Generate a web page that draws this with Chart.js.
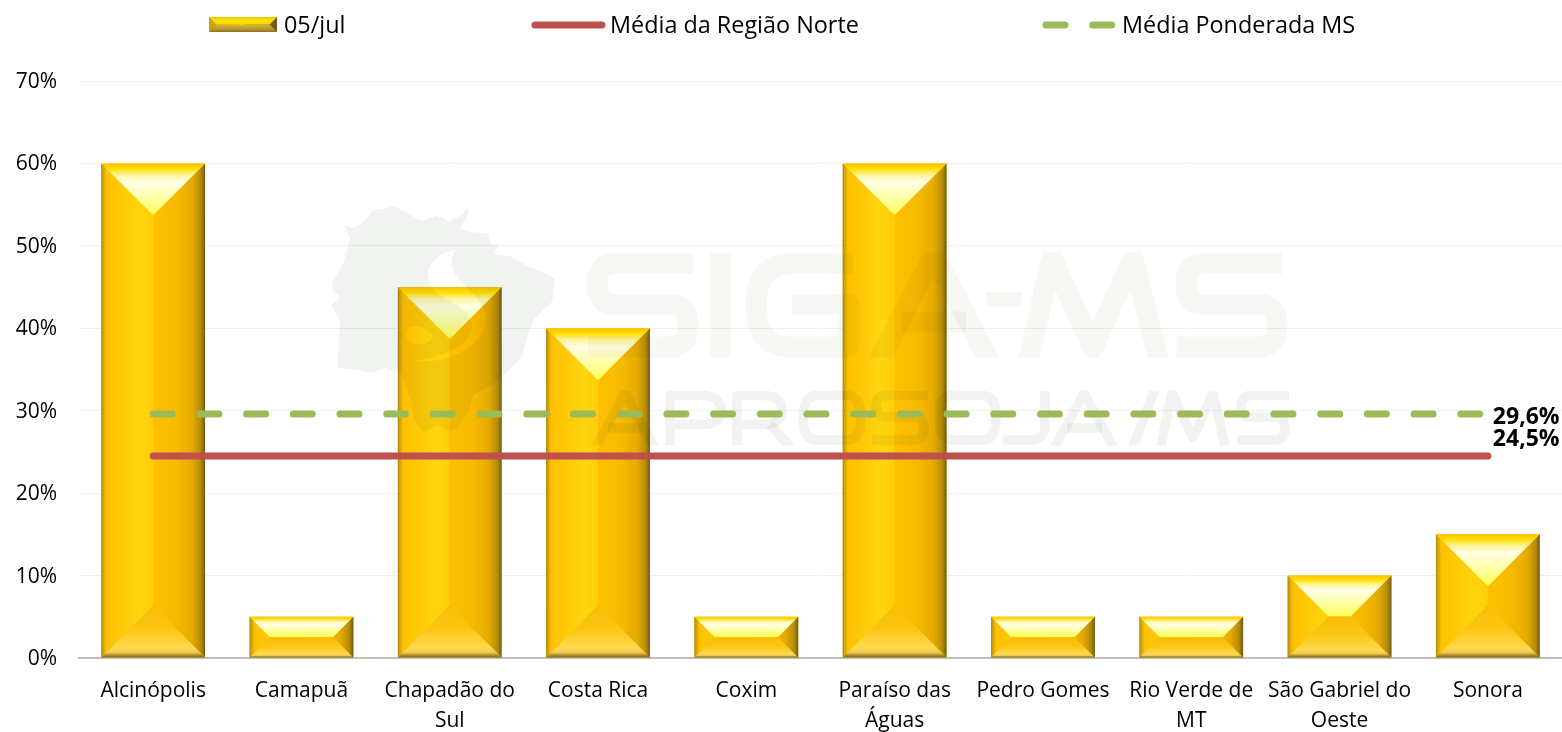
<!DOCTYPE html>
<html>
<head>
<meta charset="utf-8">
<style>html,body{margin:0;padding:0;background:#fff}#w{width:1562px;height:732px;position:relative}</style>
<script src="https://cdn.jsdelivr.net/npm/chart.js@4"></script>
</head>
<body>
<div id="w"><canvas id="c" width="1562" height="732"></canvas></div>
<script>
const categories = ["Alcinópolis","Camapuã",["Chapadão do","Sul"],"Costa Rica","Coxim",["Paraíso das","Águas"],"Pedro Gomes",["Rio Verde de","MT"],["São Gabriel do","Oeste"],"Sonora"];
const barValues = [60,5,45,40,5,60,5,5,10,15];
const mediaNorte = [24.5,24.5,24.5,24.5,24.5,24.5,24.5,24.5,24.5,24.5];
const mediaMS = [29.6,29.6,29.6,29.6,29.6,29.6,29.6,29.6,29.6,29.6];
const seriesNames = ["05/jul","Média da Região Norte","Média Ponderada MS"];
const lineLabels = ["24,5%","29,6%"];
const FONT = '"Open Sans"';

function lin(ctx,x0,y0,x1,y1,stops){const g=ctx.createLinearGradient(x0,y0,x1,y1);stops.forEach(s=>g.addColorStop(s[0],s[1]));return g;}
function poly(ctx,pts,fill){ctx.beginPath();pts.forEach((p,i)=>i?ctx.lineTo(p[0],p[1]):ctx.moveTo(p[0],p[1]));ctx.closePath();ctx.fillStyle=fill;ctx.fill();}
const barLook={
  left:[[0,'#a58414'],[0.03,'#c9a00c'],[0.1,'#FFC000'],[0.75,'#FFD50F'],[1,'#FFCE08']],
  right:[[0,'#FFC000'],[0.45,'#F6BA00'],[0.75,'#E6AB00'],[0.92,'#B58C08'],[1,'#6E5A1C']],
  top:[[0,'#FFC000'],[0.1,'#FFDE00'],[0.22,'#FFF49A'],[0.36,'#FFFFE6'],[0.6,'#FFFFB4'],[1,'#FFFF55']],
  bottom:[[0,'#F8BC08'],[0.45,'#FCC514'],[0.8,'#FFD94E'],[0.9,'#F2CC50'],[0.96,'#A98A2A'],[1,'#7A6420']]
};
const swatchLook={
  left:[[0,'#C9A010'],[1,'#E8B800']],
  right:[[0,'#A98A18'],[1,'#6E5A1C']],
  top:[[0,'#E8C000'],[0.3,'#FFE000'],[1,'#FFD800']],
  bottom:[[0,'#DDB830'],[0.6,'#B8972F'],[1,'#8C7220']]
};
function bevel(ctx,l,t,r,b,look){
  const w=r-l,h=b-t,d=Math.min(w/2,h/2),cx=(l+r)/2;
  const wl=l+d,wr=r-d,yt=t+d,yb=b-d;
  ctx.save();
  poly(ctx,[[l,t],[cx,yt],[cx,yb],[l,b]],lin(ctx,l,0,cx,0,look.left));
  poly(ctx,[[r,t],[cx,yt],[cx,yb],[r,b]],lin(ctx,cx,0,r,0,look.right));
  poly(ctx,[[l,t],[r,t],[wr,yt],[wl,yt]],lin(ctx,0,t,0,yt,look.top));
  poly(ctx,[[l,b],[r,b],[wr,yb],[wl,yb]],lin(ctx,0,yb,0,b,look.bottom));
  ctx.restore();
}
// ---------- watermark artwork (background decoration, not data) ----------
const mapOutline=[[58,88],[80,100],[110,88],[145,45],[185,40],[205,32],[230,45],[290,78],[335,62],[360,72],[370,82],[405,62],[432,38],[425,70],[405,100],[440,112],[490,115],[495,148],[518,150],[508,178],[560,185],[610,215],[660,235],[690,250],[682,320],[660,340],[625,375],[605,430],[590,490],[545,530],[500,570],[445,600],[430,650],[400,695],[375,710],[335,690],[295,712],[270,680],[255,610],[225,530],[180,518],[140,533],[100,525],[35,517],[40,455],[45,380],[20,330],[45,305],[22,285],[22,262],[55,205],[75,130]];
function watermark(ctx){
  ctx.save();
  ctx.globalCompositeOperation='multiply';
  const mx=x=>325+x/3,my=y=>195+y/3;
  ctx.beginPath();
  mapOutline.forEach((p,i)=>i?ctx.lineTo(mx(p[0]),my(p[1])):ctx.moveTo(mx(p[0]),my(p[1])));
  ctx.closePath();
  ctx.moveTo(mx(392),my(165));
  ctx.bezierCurveTo(mx(320),my(175),mx(285),my(235),mx(325),my(285));
  ctx.bezierCurveTo(mx(370),my(325),mx(440),my(335),mx(440),my(395));
  ctx.bezierCurveTo(mx(440),my(450),mx(350),my(490),mx(265),my(497));
  ctx.bezierCurveTo(mx(380),my(510),mx(485),my(450),mx(482),my(365));
  ctx.bezierCurveTo(mx(480),my(290),mx(340),my(250),mx(392),my(165));
  ctx.closePath();
  ctx.moveTo(mx(322),my(423));
  ctx.bezierCurveTo(mx(322),my(400),mx(245),my(375),mx(245),my(420));
  ctx.bezierCurveTo(mx(245),my(465),mx(322),my(450),mx(322),my(423));
  ctx.closePath();
  ctx.fillStyle='rgb(241,243,241)';
  ctx.fill('evenodd');

  ctx.lineCap='butt';ctx.lineJoin='round';
  const S=(l,r,top,mid,bot,endTop,startBot,k)=>p=>{
    p.moveTo(endTop,top);p.lineTo(l+k,top);p.quadraticCurveTo(l,top,l,top+(mid-top)/2);
    p.quadraticCurveTo(l,mid,l+k,mid);p.lineTo(r-k,mid);p.quadraticCurveTo(r,mid,r,mid+(bot-mid)/2);
    p.quadraticCurveTo(r,bot,r-k,bot);p.lineTo(startBot,bot);
  };
  const O=(l,r,t,b,k)=>p=>{
    p.moveTo(l+k,t);p.lineTo(r-k,t);p.quadraticCurveTo(r,t,r,(t+b)/2);p.quadraticCurveTo(r,b,r-k,b);
    p.lineTo(l+k,b);p.quadraticCurveTo(l,b,l,(t+b)/2);p.quadraticCurveTo(l,t,l+k,t);p.closePath();
  };
  const L=pts=>p=>pts.forEach((q,i)=>i?p.lineTo(q[0],q[1]):p.moveTo(q[0],q[1]));
  const draw=(fns,lw,col)=>{
    fns.forEach(f=>{ctx.beginPath();f(ctx);ctx.lineWidth=lw;ctx.strokeStyle=col;ctx.stroke();});
  };
  const clipBand=(t,b,fn)=>{ctx.save();ctx.beginPath();ctx.rect(560,t,760,b-t);ctx.clip();fn();ctx.restore();};
  const col1='rgb(247,247,243)',col2='rgb(241,243,241)';
  clipBand(252.5,357.5,()=>draw([
    S(597,688,263.5,304.5,347,693,588,18),
    L([[720.5,253],[720.5,357]]),
    p=>{p.moveTo(853,263.5);p.lineTo(792,263.5);p.quadraticCurveTo(756,263.5,756,305);p.quadraticCurveTo(756,347,792,347);p.lineTo(849,347);p.lineTo(849,304.5);p.lineTo(792,304.5);},
    L([[878,362],[934,255],[990,362]]),
    L([[902,322],[966,322]]),
    L([[1028,362],[1052,258],[1093,348],[1133,258],[1159,362]]),
    S(1186,1277,263.5,304.5,347,1282,1176.5,18)
  ],21,col1));
  draw([L([[986,299.5],[1022,299.5]])],15,col1);
  clipBand(390.5,445.5,()=>draw([
    L([[594,450],[625,393],[656,450]]),
    L([[608,428],[643,428]]),
    p=>{p.moveTo(670,445);p.lineTo(670,395.5);p.lineTo(702,395.5);p.quadraticCurveTo(721,395.5,721,410);p.quadraticCurveTo(721,424.5,702,424.5);p.lineTo(675,424.5);},
    p=>{p.moveTo(737,445);p.lineTo(737,395.5);p.lineTo(763,395.5);p.quadraticCurveTo(782,395.5,782,410);p.quadraticCurveTo(782,424.5,763,424.5);p.lineTo(742,424.5);},
    L([[770,424.5],[790,447]]),
    O(803,861,395.5,440,14),
    S(876,924,395.5,417,440,928,872,10),
    O(939,996,395.5,440,14),
    p=>{p.moveTo(1045,391);p.lineTo(1045,425);p.quadraticCurveTo(1045,440,1030,440);p.lineTo(1003,440);},
    L([[1053,450],[1084,393],[1115,450]]),
    L([[1067,428],[1102,428]]),
    L([[1133,447],[1155,389]]),
    L([[1160,450],[1172,393],[1193,438],[1213,393],[1226,450]]),
    S(1241,1285,395.5,417,440,1289,1237,10)
  ],9.5,col2));
  ctx.restore();
}
const painter={
  id:'painter',
  afterDatasetDraw(chart,args){
    const ctx=chart.ctx;
    if(args.index!==0)return;
    chart.getDatasetMeta(0).data.forEach(el=>{
      const p=el.getProps(['x','y','base','width'],true);
      bevel(ctx,p.x-p.width/2,p.y,p.x+p.width/2,p.base,barLook);
    });
    watermark(ctx);
  },
  afterDraw(chart){
    const ctx=chart.ctx;
    ctx.save();
    const red=chart.getDatasetMeta(1).data,green=chart.getDatasetMeta(2).data;
    ctx.font='bold 23px '+FONT;ctx.fillStyle='#000';ctx.textAlign='left';ctx.textBaseline='middle';
    const rp=red[red.length-1],gp=green[green.length-1];
    ctx.fillText(lineLabels[1],gp.x+5,gp.y+3);
    ctx.fillText(lineLabels[0],rp.x+5,rp.y-17);
    const ly=25;
    bevel(ctx,209,17,277,32,swatchLook);
    ctx.font='23.4px '+FONT;ctx.fillStyle='#000';
    ctx.fillText(seriesNames[0],284,ly+1);
    ctx.fillText(seriesNames[1],610,ly+1);
    ctx.fillText(seriesNames[2],1122,ly+1);
    ctx.lineCap='round';ctx.lineWidth=7;
    ctx.strokeStyle='#C0504D';ctx.beginPath();ctx.moveTo(535,ly);ctx.lineTo(602,ly);ctx.stroke();
    ctx.strokeStyle='#9BBB59';ctx.setLineDash([19,27.7]);ctx.beginPath();ctx.moveTo(1046,ly);ctx.lineTo(1113,ly);ctx.stroke();
    ctx.restore();
  }
};
new Chart(document.getElementById('c'),{
  data:{labels:categories,datasets:[
    {type:'bar',label:seriesNames[0],data:barValues,backgroundColor:'#FFC000',borderWidth:0,categoryPercentage:0.7,barPercentage:1,order:3},
    {type:'line',label:seriesNames[1],data:mediaNorte,borderColor:'#C0504D',borderWidth:7,borderCapStyle:'round',pointRadius:0,tension:0,order:2},
    {type:'line',label:seriesNames[2],data:mediaMS,borderColor:'#9BBB59',borderWidth:7,borderCapStyle:'round',borderDash:[19,27.7],pointRadius:0,tension:0,order:1}
  ]},
  options:{
    responsive:false,animation:false,
    layout:{padding:{top:81,left:0,right:0,bottom:0}},
    plugins:{legend:{display:false},tooltip:{enabled:false},title:{display:false}},
    scales:{
      x:{grid:{display:false},border:{color:'#BFBFBF',width:2},
         ticks:{color:'#000',font:{family:FONT,size:21,lineHeight:1.43},maxRotation:0,autoSkip:false,padding:10},
         afterFit(s){s.height=74;}},
      y:{min:0,max:70,grid:{color:'#F0F0F0',lineWidth:1,drawTicks:false},border:{display:false},
         ticks:{stepSize:10,color:'#000',font:{family:FONT,size:21},padding:22,callback:v=>v+'%'},
         afterFit(s){s.width=79;},
         afterUpdate(s){
           const orig=s._computeLabelItems;
           if(orig&&!s._nudged){s._nudged=true;s._computeLabelItems=function(a){const items=orig.call(this,a);items.forEach(i=>{i.options.translation=[i.options.translation[0],i.options.translation[1]+1];});return items;};}
         }}
    }
  },
  plugins:[painter]
});
</script>
</body>
</html>
